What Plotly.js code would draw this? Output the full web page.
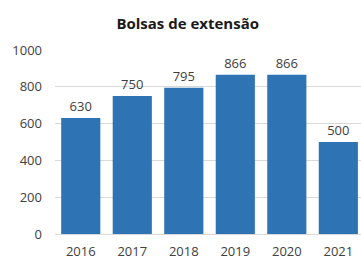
<!DOCTYPE html>
<html><head><meta charset="utf-8">
<script src="https://cdn.plot.ly/plotly-3.0.1.min.js"></script>
<style>html,body{margin:0;padding:0;background:#fff}#c{width:361px;height:260px}</style>
</head><body><div id="c"></div>
<script>
const years = ['2016','2017','2018','2019','2020','2021'];
const bolsas = [630, 750, 795, 866, 866, 500];
const yTicks = [0, 200, 400, 600, 800, 1000];

Plotly.newPlot('c', [{
  type: 'bar', x: years, y: bolsas,
  marker: {color: '#2E74B5'},
  text: bolsas.map(String), textposition: 'outside', cliponaxis: false,
  textfont: {family: 'Open Sans, sans-serif', size: 13, color: '#404040'}
}], {
  width: 361, height: 260,
  margin: {l: 55, r: 0, t: 50, b: 26},
  paper_bgcolor: '#fff', plot_bgcolor: '#fff',
  bargap: 0.24,
  title: {text: '<b>Bolsas de extensão</b>', x: 0.52, xanchor: 'center', y: 0.93,
          font: {family: 'Open Sans, sans-serif', size: 15, color: '#1a1a1a'}},
  xaxis: {type: 'category', range: [-0.5, 5.44], showgrid: false, ticks: '',
          ticklabelstandoff: 5, showline: true, linecolor: '#d9d9d9',
          tickfont: {family: 'Open Sans, sans-serif', size: 13, color: '#404040'}},
  yaxis: {range: [0, 1000], tickvals: yTicks, ticktext: yTicks.map(String),
          gridcolor: '#d9d9d9', zeroline: false, ticks: '', ticklabelstandoff: 12,
          tickfont: {family: 'Open Sans, sans-serif', size: 13, color: '#404040'}},
  showlegend: false
}, {displayModeBar: false, staticPlot: true});
</script></body></html>
